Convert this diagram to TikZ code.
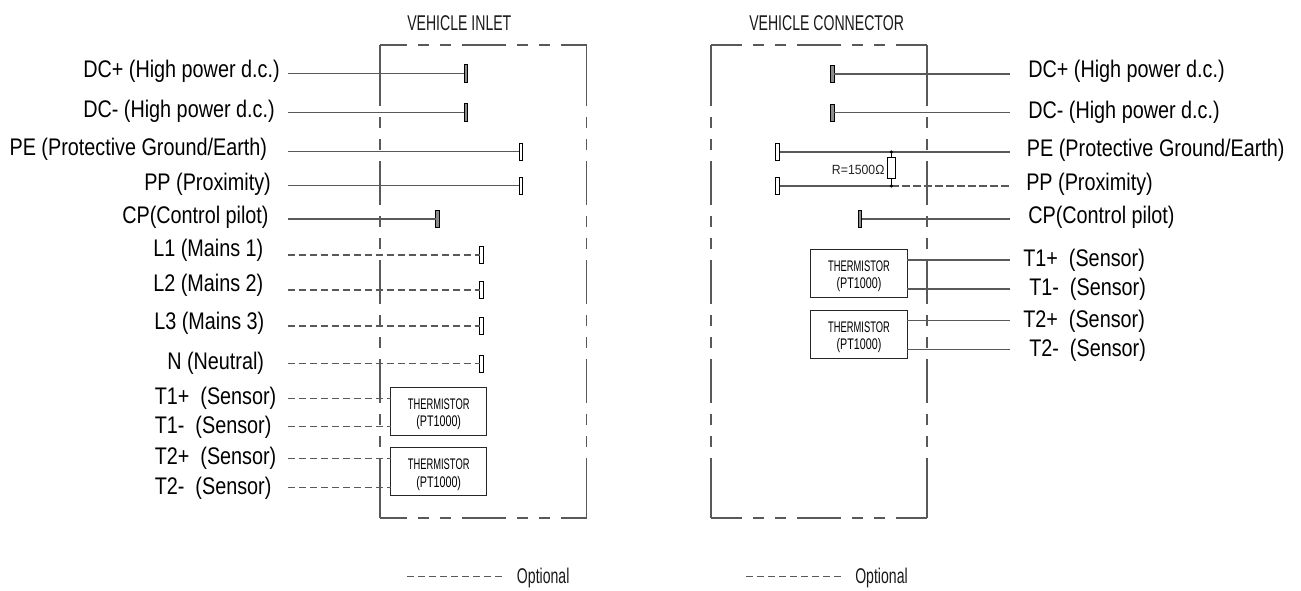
\documentclass[tikz,border=0pt]{standalone}
\usepackage{fontspec}
\usetikzlibrary{calc}
\setmainfont{Liberation Sans}
\newfontfamily\labfont[FakeStretch=0.825]{Liberation Sans}
\newfontfamily\capfont[FakeStretch=0.66]{Liberation Sans}
\newfontfamily\thfont[FakeStretch=0.61]{Liberation Sans}
\newfontfamily\ptfont[FakeStretch=0.70]{Liberation Sans}
\newfontfamily\rfont[FakeStretch=0.92]{Liberation Sans}
\begin{document}
\begin{tikzpicture}[x=0.75pt,y=-0.75pt,
  lab/.style={font=\labfont\fontsize{18pt}{20pt}\selectfont,inner sep=0pt,anchor=base west,text=black},
  captext/.style={font=\capfont\fontsize{16pt}{18pt}\selectfont,inner sep=0pt,anchor=base west,text=black!90},
  wire/.style={line width=0.8pt,draw=black!65},
  dwire/.style={wire,dash pattern=on 5.6pt off 2.65pt},
  pinbox/.style={draw=black,fill=black!45,line width=0.6pt,minimum width=2.8pt,minimum height=13pt,inner sep=0pt,outer sep=0pt},
  pinhollow/.style={pinbox,fill=white},
  therm/.style={draw=black!85,fill=white,line width=0.7pt,minimum width=72.2pt,minimum height=36pt,inner sep=0pt,outer sep=0pt,align=center},
  edge solid/.style={line width=0.8pt,draw=black!65},
  edge h/.style={edge solid,dash pattern=on 33pt off 8.25pt on 8.25pt off 8.25pt on 8.25pt off 8.25pt},
]
\useasboundingbox (0,0) rectangle (1301,590);
\newcommand{\thermtext}{\rule{0pt}{12.5pt}{\thfont\fontsize{11.5pt}{13pt}\selectfont THERMISTOR}\\[1pt]{\ptfont\fontsize{11.5pt}{13pt}\selectfont (PT1000)}}
% titles
\node[captext] (t1) at (407,30.5) {VEHICLE INLET};
\node[captext] (t2) at (749,30.5) {VEHICLE CONNECTOR};
% dashed outlines
\coordinate (A1) at (380,45); \coordinate (A2) at (586.5,45); \coordinate (A3) at (586.5,518); \coordinate (A4) at (380,518);
\coordinate (B1) at (711,45); \coordinate (B2) at (927,45); \coordinate (B3) at (927,518); \coordinate (B4) at (711,518);
\draw[edge h,dash phase=12.75pt] (A1) -- (A2);
\draw[edge h,dash phase=12.75pt] (A4) -- (A3);
\draw[edge h,dash phase=9.75pt] (B1) -- (B2);
\draw[edge h,dash phase=9.75pt] (B4) -- (B3);
\foreach \c/\d in {A1/A4,A2/A3,B1/B4,B2/B3}{
  \draw[edge h] ($(\c)+(0,17)$) -- ($(\d)+(0,-16)$);
  \draw[edge solid] (\c) -- ($(\c)+(0,17)$);
  \draw[edge solid] ($(\d)+(0,-16)$) -- (\d);
}
% left labels
\foreach \n/\x/\y/\t in {a/83/77/{DC+ (High power d.c.)},b/83/117/{DC- (High power d.c.)},c/9.3/155/{PE (Protective Ground/Earth)},d/144/190/{PP (Proximity)},e/122/223/{CP(Control pilot)},f/153/256/{L1 (Mains 1)},g/153/291.5/{L2 (Mains 2)},h/154/329/{L3 (Mains 3)},i/167/369/{N (Neutral)},j/154.5/404/{T1+\ \ (Sensor)},k/154.5/433/{T1-\ \ (Sensor)},l/154.5/464/{T2+\ \ (Sensor)},m/154.5/494/{T2-\ \ (Sensor)}}
  \node[lab] (L\n) at (\x,\y) {\t};
% pins left
\node[pinbox] (pa) at (466,73.5) {}; \node[pinbox] (pb) at (466,112.5) {};
\node[pinhollow] (pc) at (521,151.7) {}; \node[pinhollow] (pd) at (521,185.7) {};
\node[pinbox] (pe) at (437.7,219) {};
\node[pinhollow] (pf) at (481.7,255) {}; \node[pinhollow] (pg) at (481.7,290) {};
\node[pinhollow] (ph) at (481.7,326) {}; \node[pinhollow] (pi) at (481.7,363.7) {};
\foreach \n in {a,b,c,d,e,f,g,h,i} \coordinate (s\n) at (287.5,0 |- p\n);
\foreach \n in {a,b,c,d,e} \draw[wire] (s\n) -- (p\n);
\foreach \n in {f,g,h,i} \draw[dwire] (s\n) -- (p\n);
% thermistors left
\node[therm] (th1) at (438.7,411) {\thermtext};
\node[therm] (th2) at (438.7,471.7) {\thermtext};
\coordinate (sj) at (288,398.3); \coordinate (sk) at (288,426.7);
\coordinate (sl) at (288,458.7); \coordinate (sm) at (288,487.3);
\draw[dwire] (sj) -- (th1.west |- sj);
\draw[dwire] (sk) -- (th1.west |- sk);
\draw[dwire] (sl) -- (th2.west |- sl);
\draw[dwire] (sm) -- (th2.west |- sm);
% right labels
\foreach \n/\x/\y/\t in {a/1028/77.3/{DC+ (High power d.c.)},b/1028/118/{DC- (High power d.c.)},c/1026.7/156/{PE (Protective Ground/Earth)},d/1026/190/{PP (Proximity)},e/1028/223.5/{CP(Control pilot)},j/1023/266.7/{T1+\ \ (Sensor)},k/1029/295/{T1-\ \ (Sensor)},l/1023/327.3/{T2+\ \ (Sensor)},m/1029/356/{T2-\ \ (Sensor)}}
  \node[lab] (R\n) at (\x,\y) {\t};
\node[pinbox] (qa) at (832.3,74) {}; \node[pinbox] (qb) at (832.3,112.7) {};
\node[pinhollow] (qc) at (777.7,152) {}; \node[pinhollow] (qd) at (777.7,186) {};
\node[pinbox] (qe) at (860,219) {};
\foreach \n/\y in {a/74,b/112.7,c/152,d/186,e/219,j/260,k/289,l/320.7,m/349.3}
  \coordinate (e\n) at (1010,\y);
\draw[wire] (qa) -- (ea);
\draw[wire] (qb) -- (eb);
\draw[wire] (qc) -- (ec);
\draw[wire] (qe) -- (ee);
\coordinate (jc) at (891.3,152); \coordinate (jd) at (891.3,186);
\draw[wire] (qd) -- (jd);
\draw[dwire] (jd) -- (ed);
\fill (jc) circle (1.7); \fill (jd) circle (1.7);
\node[draw=black,fill=white,line width=0.6pt,minimum width=6.2pt,minimum height=15.3pt,inner sep=0pt,outer sep=0pt] (res) at (891.3,168) {};
\draw[line width=0.6pt] (jc) -- (res.north) (res.south) -- (jd);
\node[font=\rfont\fontsize{10pt}{12pt}\selectfont,inner sep=0pt,anchor=base west,text=black!85] (rl) at (831.7,174) {R=1500Ω};
\node[therm] (th3) at (859,273) {\thermtext};
\node[therm] (th4) at (859,334) {\thermtext};
\draw[wire] (th3.east |- ej) -- (ej);
\draw[wire] (th3.east |- ek) -- (ek);
\draw[wire] (th4.east |- el) -- (el);
\draw[wire] (th4.east |- em) -- (em);
% legends
\coordinate (o1) at (407,576.7); \coordinate (o2) at (505,576.7);
\coordinate (o3) at (746,576.7); \coordinate (o4) at (844,576.7);
\draw[dwire] (o1) -- (o2);
\draw[dwire] (o3) -- (o4);
\node[captext] (n1) at (516.7,583) {Optional};
\node[captext] (n2) at (855,583) {Optional};
\end{tikzpicture}
\end{document}
